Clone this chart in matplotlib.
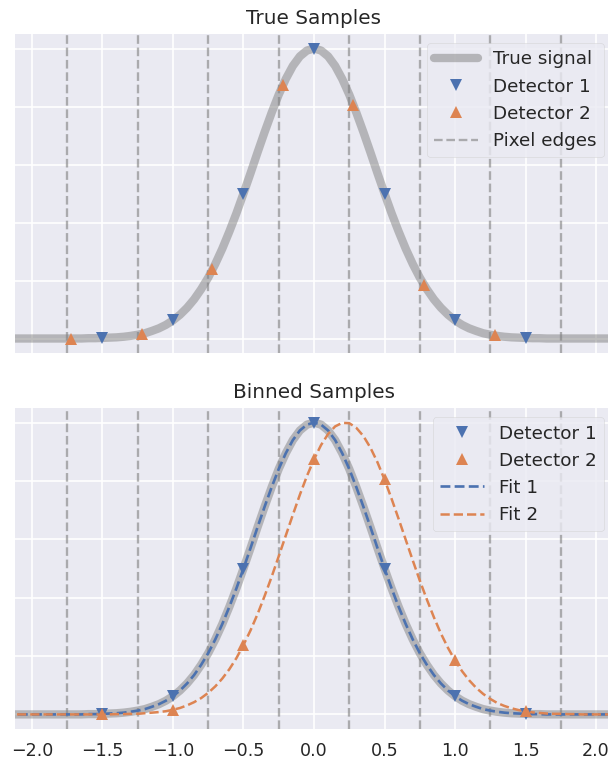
"""Sampled vs. binned Gaussian profile seen by two offset detectors."""

import matplotlib
matplotlib.use("Agg")
import matplotlib.pyplot as plt
import numpy as np

plt.style.use("seaborn-v0_8")
plt.rcParams["font.family"] = ["DejaVu Sans"]
plt.rcParams["legend.frameon"] = True
plt.rcParams["legend.fontsize"] = 11
plt.rcParams["xtick.labelsize"] = 10.5
plt.rcParams["axes.titlesize"] = 12

BLUE = "#4C72B0"
ORANGE = "#DD8452"

# fine grid the curves are tabulated on
X_GRID = np.linspace(-2.2, 2.2, 89)

# true signal (unit peak, FWHM ~1)
TRUE_SIGNAL = (
    [0.0] * 12
    + [0.001, 0.001, 0.002, 0.003, 0.004, 0.006, 0.009, 0.013, 0.018, 0.026,
       0.035, 0.047, 0.0625, 0.082, 0.106, 0.135, 0.170, 0.210, 0.257, 0.310,
       0.369, 0.432, 0.500, 0.570, 0.642, 0.712, 0.779, 0.841, 0.895, 0.940,
       0.973, 0.993, 1.000, 0.993, 0.973, 0.940, 0.895, 0.841, 0.779, 0.712,
       0.642, 0.570, 0.500, 0.432, 0.369, 0.310, 0.257, 0.210, 0.170, 0.135,
       0.106, 0.082, 0.0625, 0.047, 0.035, 0.026, 0.018, 0.013, 0.009, 0.006,
       0.004, 0.003, 0.002, 0.001, 0.001]
    + [0.0] * 12
)

# fitted profiles from the binned samples
FIT_1 = TRUE_SIGNAL
FIT_2 = (
    [0.0] * 16
    + [0.001, 0.001, 0.002, 0.002, 0.004, 0.006, 0.008, 0.011, 0.016, 0.022,
       0.031, 0.042, 0.056, 0.074, 0.096, 0.123, 0.155, 0.193, 0.238, 0.288,
       0.344, 0.406, 0.472, 0.542, 0.613, 0.684, 0.753, 0.817, 0.874, 0.923,
       0.961, 0.987, 0.999, 0.998, 0.982, 0.954, 0.914, 0.864, 0.805, 0.739,
       0.670, 0.599, 0.528, 0.459, 0.394, 0.333, 0.277, 0.228, 0.185, 0.148,
       0.117, 0.091, 0.070, 0.053, 0.039, 0.029, 0.021, 0.015, 0.011, 0.007,
       0.005, 0.003, 0.002, 0.002, 0.001, 0.001]
    + [0.0] * 7
)

# sample positions / values
DET1_X = [-1.5, -1.0, -0.5, 0.0, 0.5, 1.0, 1.5]
DET1_Y = [0.002, 0.0625, 0.500, 1.000, 0.500, 0.0625, 0.002]
DET2_X = [-1.72, -1.22, -0.72, -0.22, 0.28, 0.78, 1.28]
DET2_Y = [0.000, 0.016, 0.238, 0.874, 0.805, 0.185, 0.011]

# binned: detector 2 values land on the detector 1 pixel centres
BIN1_Y = [0.002, 0.0625, 0.500, 1.000, 0.500, 0.0625, 0.002]
BIN2_Y = [0.000, 0.016, 0.238, 0.874, 0.805, 0.185, 0.011]

PIXEL_EDGES = [-1.75, -1.25, -0.75, -0.25, 0.25, 0.75, 1.25, 1.75]
X_TICKS = [-2.0, -1.5, -1.0, -0.5, 0.0, 0.5, 1.0, 1.5, 2.0]

W, H, DPI = 608, 766, 120
fig = plt.figure(figsize=(W / DPI, H / DPI), dpi=DPI)


def px_axes(left, top, right, bottom, **kw):
    return fig.add_axes([left / W, 1 - bottom / H, (right - left) / W,
                         (bottom - top) / H], **kw)


ax1 = px_axes(15, 34, 613, 353)
ax2 = px_axes(15, 408, 613, 729, sharex=ax1)

signal_kw = dict(color="gray", alpha=0.5, lw=5)
edge_kw = dict(color="gray", alpha=0.6, ls="--", lw=1.4)

# top panel: point samples of the true signal
ax1.plot(X_GRID, TRUE_SIGNAL, label="True signal", **signal_kw)
ax1.plot(DET1_X, DET1_Y, "v", color=BLUE, ms=7, ls="none", label="Detector 1", zorder=4)
ax1.plot(DET2_X, DET2_Y, "^", color=ORANGE, ms=7, ls="none", label="Detector 2", zorder=4)
for i, xe in enumerate(PIXEL_EDGES):
    ax1.axvline(xe, label="Pixel edges" if i == 0 else None, **edge_kw)
ax1.set_title("True Samples")
ax1.legend(loc="upper right", handlelength=2.4)

# bottom panel: binned samples and gaussian fits
ax2.plot(X_GRID, TRUE_SIGNAL, **signal_kw)
ax2.plot(DET1_X, BIN1_Y, "v", color=BLUE, ms=7, ls="none", label="Detector 1", zorder=4)
ax2.plot(DET1_X, BIN2_Y, "^", color=ORANGE, ms=7, ls="none", label="Detector 2", zorder=4)
ax2.plot(X_GRID, FIT_1, "--", color=BLUE, lw=1.6, label="Fit 1", zorder=3)
ax2.plot(X_GRID, FIT_2, "--", color=ORANGE, lw=1.5, label="Fit 2", zorder=3)
for xe in PIXEL_EDGES:
    ax2.axvline(xe, **edge_kw)
ax2.set_title("Binned Samples")
ax2.legend(loc="upper right", handlelength=2.4)

for ax in (ax1, ax2):
    ax.set_xlim(-2.12, 2.12)
    ax.set_ylim(-0.05, 1.05)
    ax.set_yticks([0, 0.2, 0.4, 0.6, 0.8, 1.0])
    ax.tick_params(labelleft=False)
ax2.set_xticks(X_TICKS)
ax2.tick_params(axis="x", pad=8)
ax1.tick_params(labelbottom=False)

fig.savefig("out.png", dpi=DPI)
